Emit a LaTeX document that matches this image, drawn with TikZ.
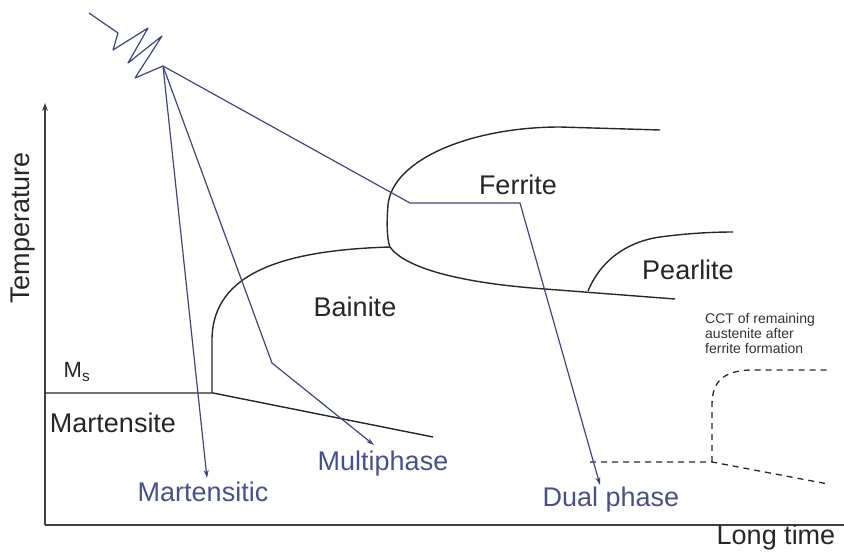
\documentclass[tikz,border=0pt]{standalone}
\usepackage{fontspec}
\setmainfont{Liberation Sans}
\usetikzlibrary{arrows.meta}
\definecolor{pathblue}{RGB}{62,70,128}
\definecolor{labelblue}{RGB}{72,80,140}
\definecolor{curve}{RGB}{40,40,40}
\tikzset{
  phaseline/.style={draw=curve, line width=1.4pt, line join=round},
  coolpath/.style={draw=pathblue, line width=1.2pt, line join=round},
  coolarrow/.style={coolpath, -{Stealth[length=8pt,width=5pt]}},
  ccline/.style={draw=curve, line width=1.3pt, dash pattern=on 6pt off 5pt},
  biglabel/.style={font=\fontsize{27}{30}\selectfont, text=black!85, inner sep=0pt},
  bluelabel/.style={font=\fontsize{27}{30}\selectfont, text=labelblue, inner sep=0pt},
  smalllabel/.style={font=\fontsize{14}{15}\selectfont, text=black!80, inner sep=0pt, align=left}
}
\begin{document}
\begin{tikzpicture}[x=1pt,y=-1pt]
\useasboundingbox (0,0) rectangle (844,558);
% axes
\coordinate (origin) at (45,525);
\coordinate (ytop) at (45,103);
\coordinate (xend) at (844,525);
\draw[draw=black!75, line width=1.6pt, -{Stealth[length=8pt,width=6pt]}] (origin) -- (ytop);
\draw[draw=black!75, line width=1.6pt] (origin) -- (xend);
\node[biglabel, rotate=90] (temp) at (23,228) {Temperature};
\node[biglabel] (longtime) at (776,538) {Long time};

% Ms line and martensite boundary
\coordinate (msleft) at (45,393);
\coordinate (msjoin) at (213,393);
\coordinate (msend) at (433,437);
\draw[phaseline] (msleft) -- (msjoin) -- (msend);
\node[font=\fontsize{22}{24}\selectfont, text=black!85, inner sep=0pt] (ms) at (77,372) {M\textsubscript{s}};
\node[biglabel] (martensite) at (113,423) {Martensite};

% Bainite curve
\coordinate (bainend) at (390,247);
\draw[phaseline] (212,393) -- (212,340) .. controls (212,270) and (290,250) .. (bainend);
\node[biglabel] (bainite) at (355,307) {Bainite};

% Ferrite nose curve
\draw[phaseline] (660,130) -- (560,127) .. controls (470,127) and (392,160) .. (388,205)
  .. controls (386,230) and (388,242) .. (bainend)
  .. controls (405,268) and (460,283) .. (545,289) -- (675,299);
\node[biglabel] (ferrite) at (518,185) {Ferrite};

% Pearlite curve
\draw[phaseline] (588,291) .. controls (600,262) and (625,242) .. (660,237) .. controls (690,233) and (715,232) .. (733,232);
\node[biglabel] (pearlite) at (688,270) {Pearlite};

% CCT of remaining austenite
\coordinate (dpstart) at (590,462);
\coordinate (cctjoin) at (712,462);
\coordinate (cctend) at (828,484);
\coordinate (ccttop) at (830,370);
\draw[ccline] (dpstart) -- (cctjoin) -- (cctend);
\draw[ccline] (cctjoin) -- (712,405) .. controls (712,380) and (725,371) .. (750,370) -- (ccttop);
\node[smalllabel, anchor=north west] (cctlabel) at (705,313) {CCT of remaining\\austenite after\\ferrite formation};

% zigzag and cooling paths
\coordinate (vertex) at (163,66);
\draw[coolpath] (89,13) -- (118,33) -- (113,50) -- (148,28) -- (128,63) -- (162,36) -- (135,78) -- (vertex);

\coordinate (martip) at (207,478);
\draw[coolarrow] (vertex) -- (martip);
\node[bluelabel] (martensitic) at (203,492) {Martensitic};

\coordinate (multbend) at (272,363);
\coordinate (multtip) at (374,445);
\draw[coolarrow] (vertex) -- (multbend) -- (multtip);
\node[bluelabel] (multiphase) at (383,464) {Multiphase};

\coordinate (ferrstart) at (410,203);
\coordinate (ferrend) at (520,203);
\coordinate (dualtip) at (600,485);
\draw[coolarrow] (vertex) -- (ferrstart) -- (ferrend) -- (dualtip);
\node[bluelabel] (dual) at (611,500) {Dual phase};
\end{tikzpicture}
\end{document}
